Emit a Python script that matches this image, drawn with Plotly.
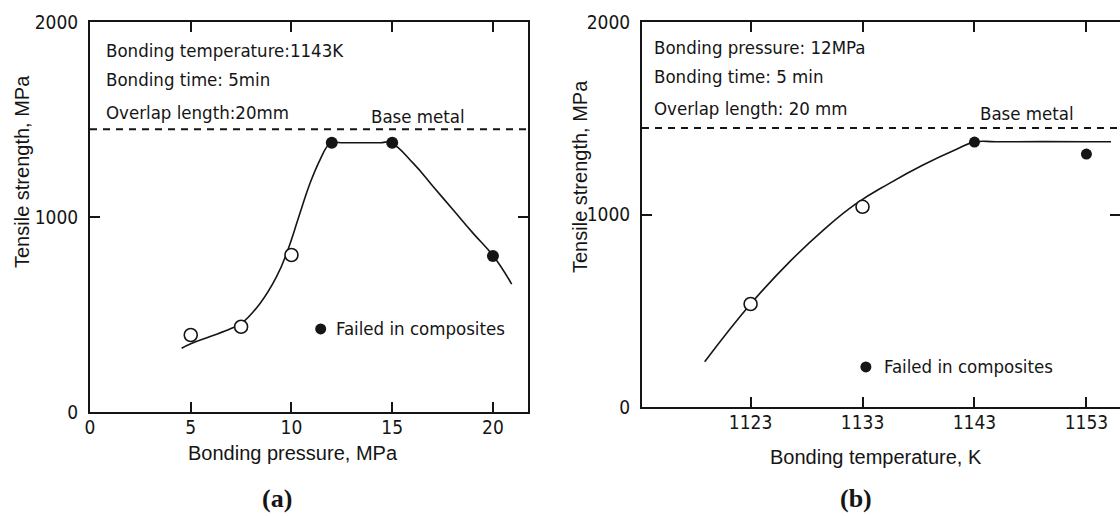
import plotly.graph_objects as go

# ---------------- data: panel (a) ----------------
pressure_open = [5, 7.5, 10]
strength_open_a = [395, 437, 805]
pressure_filled = [12, 15, 20]
strength_filled_a = [1381, 1381, 800]
curve_a_x = [4.55, 5, 6, 7, 7.5, 8.44, 9.26, 9.8, 10.42, 10.92, 11.41, 11.83, 12.04, 12.6,
             14.4, 14.92, 16.05, 17.04, 18.03, 19.02, 20.02, 20.93]
curve_a_y = [327, 350, 388, 428, 453, 557, 694, 825, 1019, 1173, 1292, 1369, 1381, 1381,
             1381, 1381, 1275, 1155, 1036, 916, 800, 656]
xticks_a = [0, 5, 10, 15, 20]

# ---------------- data: panel (b) ----------------
temp_open = [1123, 1133]
strength_open_b = [535, 1040]
temp_filled = [1143, 1153]
strength_filled_b = [1376, 1314]
curve_b_x = [1118.9, 1123, 1126.5, 1129.5, 1132.4, 1135.4, 1138.4, 1141.4, 1143, 1145, 1153, 1155.2]
curve_b_y = [235, 535, 755, 919, 1055, 1162, 1257, 1339, 1376, 1378, 1378, 1378]
xticks_b = [1123, 1133, 1143, 1153]

yticks = [0, 1000, 2000]
base_metal = 1450

INK = "#151515"
FONT = "Liberation Sans Narrow, DejaVu Sans Condensed, Liberation Sans, Arial, sans-serif"
TFONT = "Liberation Sans, Arial, sans-serif"

fig = go.Figure()

def add_panel(xa, ya, cx, cy, ox, oy, fx, fy, fsize):
    fig.add_trace(go.Scatter(x=cx, y=cy, mode="lines", xaxis=xa, yaxis=ya,
                             line=dict(color=INK, width=1.6, shape="spline", smoothing=1.3),
                             showlegend=False, hoverinfo="skip"))
    fig.add_trace(go.Scatter(x=ox, y=oy, mode="markers", xaxis=xa, yaxis=ya,
                             marker=dict(symbol="circle", size=13, color="white",
                                         line=dict(color=INK, width=1.6)),
                             showlegend=False))
    fig.add_trace(go.Scatter(x=fx, y=fy, mode="markers", xaxis=xa, yaxis=ya,
                             marker=dict(symbol="circle", size=fsize, color=INK,
                                         line=dict(color=INK, width=0)),
                             showlegend=False))

add_panel("x", "y", curve_a_x, curve_a_y, pressure_open, strength_open_a,
          pressure_filled, strength_filled_a, 12)
add_panel("x2", "y2", curve_b_x, curve_b_y, temp_open, strength_open_b,
          temp_filled, strength_filled_b, 11)

# legend-like keys ("Failed in composites")
fig.add_trace(go.Scatter(x=[11.45], y=[426], mode="markers", xaxis="x", yaxis="y",
                         marker=dict(size=11, color=INK), showlegend=False))
fig.add_trace(go.Scatter(x=[1133.3], y=[208], mode="markers", xaxis="x2", yaxis="y2",
                         marker=dict(size=11, color=INK), showlegend=False))

axis_common = dict(showgrid=False, zeroline=False, showline=True, linecolor=INK,
                   linewidth=2, mirror="ticks", ticks="inside", ticklen=10,
                   tickwidth=2, tickcolor=INK, automargin=False,
                   tickfont=dict(family=FONT, size=19, color=INK))

fig.update_layout(
    width=1120, height=516,
    margin=dict(l=0, r=0, t=0, b=0, pad=0, autoexpand=False),
    paper_bgcolor="white", plot_bgcolor="white",
    xaxis=dict(domain=[90/1120, 528/1120], range=[0, 21.74], tickvals=xticks_a,
               anchor="y", ticklabelstandoff=-3, **axis_common),
    yaxis=dict(domain=[1-412/516, 1-22/516], range=[0, 2000], tickvals=yticks,
               anchor="x", ticklabelstandoff=6, **axis_common),
    xaxis2=dict(domain=[642/1120, 1.0], range=[1113.3, 1156.0], tickvals=xticks_b,
                anchor="y2", ticklabelstandoff=-3, **axis_common),
    yaxis2=dict(domain=[1-407/516, 1-22/516], range=[0, 2000], tickvals=yticks,
                anchor="x2", ticklabelstandoff=6, **axis_common),
)

# base metal dashed lines
for xr, yr in (("x domain", "y"), ("x2 domain", "y2")):
    fig.add_shape(type="line", xref=xr, yref=yr, x0=0, x1=1, y0=base_metal, y1=base_metal,
                  line=dict(color=INK, width=2, dash="7px,6px"))

def txt(x, y, s, xref, yref, xanchor="left", size=18.5, family=FONT):
    fig.add_annotation(x=x, y=y, xref=xref, yref=yref, text=s, showarrow=False,
                       xanchor=xanchor, yanchor="middle",
                       font=dict(family=family, size=size, color=INK))

# panel (a) texts
txt(0.67, 1856, "Bonding temperature:1143K", "x", "y")
txt(0.67, 1703, "Bonding time: 5min", "x", "y")
txt(0.67, 1538, "Overlap length:20mm", "x", "y")
txt(16.26, 1515, "Base metal", "x", "y", xanchor="center")
txt(12.1, 426, "Failed in composites", "x", "y")

# panel (b) texts
txt(1114.2, 1870, "Bonding pressure: 12MPa", "x2", "y2")
txt(1114.2, 1719, "Bonding time: 5 min", "x2", "y2")
txt(1114.2, 1553, "Overlap length: 20 mm", "x2", "y2")
txt(1147.7, 1525, "Base metal", "x2", "y2", xanchor="center")
txt(1134.7, 208, "Failed in composites", "x2", "y2")

# axis titles
def ptxt(x, y, s, angle=0, size=20, family=TFONT, bold=False):
    fig.add_annotation(x=x/1120, y=1-y/516, xref="paper", yref="paper", text=s,
                       showarrow=False, textangle=angle, xanchor="center", yanchor="middle",
                       font=dict(family=family, size=size, color=INK,
                                 weight="bold" if bold else "normal"))

ptxt(293, 453, "Bonding pressure, MPa")
ptxt(876, 457, "Bonding temperature, K")
ptxt(22, 172, "Tensile strength, MPa", angle=-90)
ptxt(580, 177, "Tensile strength, MPa", angle=-90)
ptxt(277, 498, "(a)", size=26, family="Liberation Serif, Times New Roman, serif", bold=True)
ptxt(856, 498, "(b)", size=26, family="Liberation Serif, Times New Roman, serif", bold=True)

fig.write_html("out.html", config={"displayModeBar": False},
               post_script="document.body.style.margin='0';")
